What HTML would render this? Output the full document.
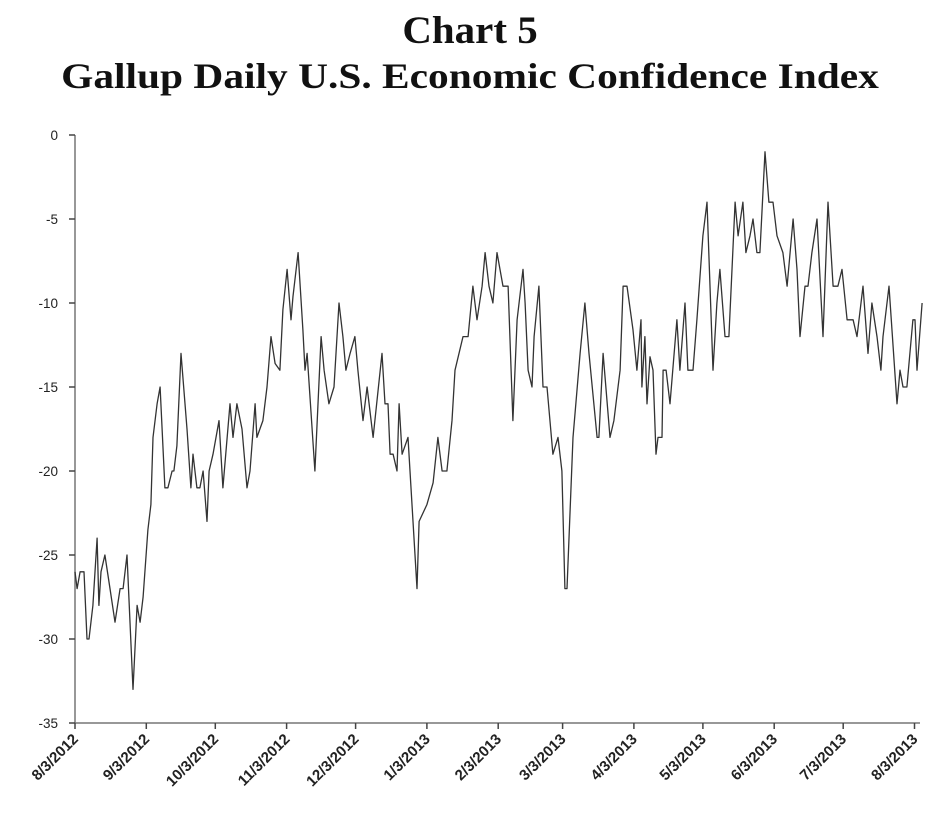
<!DOCTYPE html>
<html><head><meta charset="utf-8"><style>
html,body{margin:0;padding:0;background:#fff;}
body{width:940px;height:816px;position:relative;overflow:hidden;}
.t{position:absolute;left:0;width:940px;text-align:center;font-family:"Liberation Serif",serif;font-weight:bold;color:#111;}
</style></head><body>
<div class="t" style="top:8px;font-size:39px;transform:scaleX(1.05);">Chart 5</div>
<div class="t" style="top:55px;font-size:36px;transform:scaleX(1.15);">Gallup Daily U.S. Economic Confidence Index</div>
<svg id="chart" width="940" height="816" style="position:absolute;left:0;top:0;"></svg>
<script>
const days=[0,0.9,2.2,3.9,5.2,6.1,7.8,9.6,10.4,11.3,13,15.2,17.4,19.6,20.9,22.6,23.9,25.2,27,28.3,29.6,31.7,33,33.9,35.7,37,39.1,40.4,42.2,43,44.3,46.1,48.7,50.4,51.3,53,54.3,55.7,57.4,58.3,60,62.6,64.3,67.4,68.7,70.4,72.6,74.8,76.1,78.3,79.1,81.7,83.5,85.2,87,89.1,90.4,92.2,93.9,94.8,97,99.1,100,100.9,104.3,107,108.3,110.4,112.6,114.8,116.5,117.8,119.6,121.7,123,125.2,127,129.6,133.5,134.8,136.1,137,138.3,140,140.9,142.2,144.8,148.7,149.6,153,155.7,157.8,159.6,161.7,163.9,165.2,168.7,170.9,173,174.8,177,178.3,180,181.7,183.5,186.1,188.3,190.4,192.2,194.8,195.7,197,198.7,199.6,201.7,203.5,205.2,207.8,210,211.7,213,213.9,216.5,219.6,221.7,223.5,227,227.8,229.6,232.6,234.3,237,238.3,240,242.6,244.3,246.1,246.5,247.8,248.7,250,251.3,252.6,253.5,255.2,255.7,257,258.7,261.7,263,265.2,266.5,268.7,270.4,273,274.8,277.4,279.1,280.4,282.6,284.3,287,288.3,290.4,291.7,293.5,294.8,296.5,297.8,300,301.7,303.5,305.2,307.8,309.6,310.9,312.2,313.9,315.2,317.4,318.7,320.4,322.6,325.2,327.4,329.6,331.7,333.5,335.7,338.3,340,342.6,344.8,346.5,348.7,350.4,351.3,353.9,357.4,358.7,360,361.7,364.3,365.2,366.1,368.3];
const values=[-26,-27,-26,-26,-30,-30,-28,-24,-28,-26,-25,-27,-29,-27,-27,-25,-29,-33,-28,-29,-27.5,-23.5,-22,-18,-16,-15,-21,-21,-20,-20,-18.5,-13,-17.5,-21,-19,-21,-21,-20,-23,-20,-19,-17,-21,-16,-18,-16,-17.5,-21,-20,-16,-18,-17,-15,-12,-13.6,-14,-10.4,-8,-11,-9.6,-7,-11.6,-14,-13,-20,-12,-14,-16,-15,-10,-12,-14,-13,-12,-14,-17,-15,-18,-13,-16,-16,-19,-19,-20,-16,-19,-18,-27,-23,-22,-20.7,-18,-20,-20,-17,-14,-12,-12,-9,-11,-9,-7,-9,-10,-7,-9,-9,-17,-11,-8,-10,-14,-15,-12,-9,-15,-15,-19,-18,-20,-27,-27,-18,-13,-10,-13,-18,-18,-13,-18,-17,-14,-9,-9,-11.6,-14,-11,-15,-12,-16,-13.2,-14,-19,-18,-18,-14,-14,-16,-11,-14,-10,-14,-14,-11,-6,-4,-14,-10,-8,-12,-12,-4,-6,-4,-7,-6,-5,-7,-7,-1,-4,-4,-6,-7,-9,-7,-5,-8,-12,-9,-9,-7,-5,-12,-4,-9,-9,-8,-11,-11,-12,-9,-13,-10,-12,-14,-12,-9,-16,-14,-15,-15,-11,-11,-14,-10];
const yTicks=[0,-5,-10,-15,-20,-25,-30,-35];
const xTickDays=[0,31,61,92,122,153,184,212,243,273,304,334,365];
const xTickLabels=["8/3/2012","9/3/2012","10/3/2012","11/3/2012","12/3/2012","1/3/2013","2/3/2013","3/3/2013","4/3/2013","5/3/2013","6/3/2013","7/3/2013","8/3/2013"];
const NS="http://www.w3.org/2000/svg";
const svg=document.getElementById('chart');
const X0=75,XS=2.3,Y0=135,YS=16.8;
function xs(d){return X0+d*XS;}
function ys(v){return Y0-v*YS;}
function mk(t,a){const e=document.createElementNS(NS,t);for(const k in a)e.setAttribute(k,a[k]);svg.appendChild(e);return e;}
let yax=mk('line',{x1:X0,y1:ys(0),x2:X0,y2:ys(-35),stroke:'#777','stroke-width':1.5});


let xax=mk('line',{x1:X0,y1:ys(-35),x2:920,y2:ys(-35),stroke:'#777','stroke-width':1.5});


yTicks.forEach(v=>{
 let tk=mk('line',{x1:X0-6,y1:ys(v),x2:X0,y2:ys(v),stroke:'#444','stroke-width':1.5});
 
 
 let t=mk('text',{x:58,y:ys(v)+5,'text-anchor':'end','font-family':'Liberation Sans, sans-serif','font-size':13.5,fill:'#222'});
 t.textContent=String(v);
 
 
});
xTickDays.forEach((d,i)=>{
 let tk=mk('line',{x1:xs(d),y1:ys(-35),x2:xs(d),y2:ys(-35)+6,stroke:'#444','stroke-width':1.5});
 
 
 let x=xs(d)+4,y=ys(-35)+17;
 let t=mk('text',{x:x,y:y,'text-anchor':'end','font-family':'Liberation Sans, sans-serif','font-size':15,'font-weight':'bold',fill:'#222',transform:'rotate(-45 '+x+' '+y+')'});
 t.textContent=xTickLabels[i];
 
 
});
let p=days.map((d,i)=>(i?'L':'M')+xs(d).toFixed(1)+' '+ys(values[i]).toFixed(1)).join(' ');
let line=mk('path',{d:p,fill:'none',stroke:'#333','stroke-width':1.3,'stroke-linejoin':'round'});


</script>
</body></html>
